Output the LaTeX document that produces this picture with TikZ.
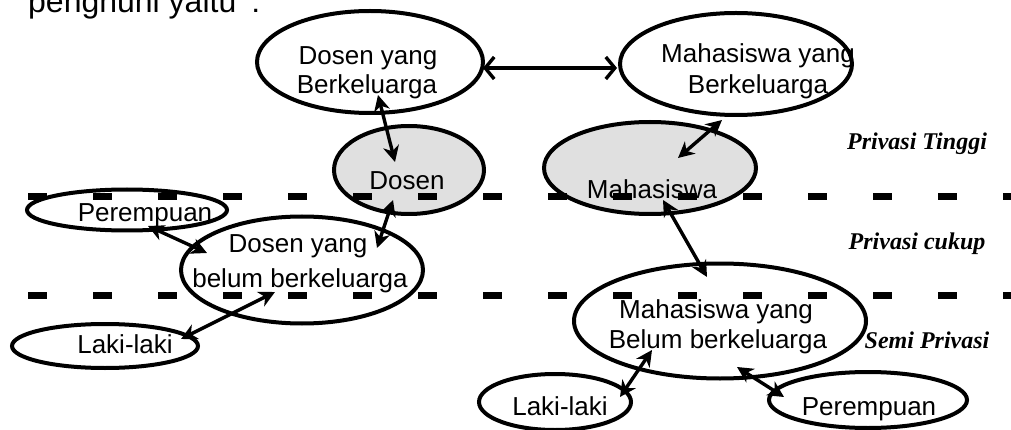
\documentclass[tikz,border=0pt]{standalone}
\usepackage{fontspec}
\setmainfont{Liberation Sans}
\newfontfamily\privfont{Liberation Serif}
\usetikzlibrary{shapes.geometric,arrows.meta,calc}
\begin{document}
\begin{tikzpicture}[x=1pt,y=-1pt,
  ell/.style={draw, line width=4pt, ellipse, inner sep=0pt},
  shaded/.style={fill=black!12},
  lbl/.style={font=\fontsize{26}{29}\selectfont, anchor=base, inner sep=0pt},
  priv/.style={font=\privfont\fontsize{24}{26}\selectfont\bfseries\itshape, anchor=base, inner sep=0pt},
  bi/.style={line width=3.4pt, {Stealth[length=16pt,width=16pt,inset=5pt]}-{Stealth[length=16pt,width=16pt,inset=5pt]}},
  barb/.style={line width=3.4pt, {Straight Barb[length=9pt,width=22pt]}-{Straight Barb[length=9pt,width=22pt]}},
  dashline/.style={line width=7pt, dash pattern=on 19pt off 46pt},
]
\useasboundingbox (0,0) rectangle (1011,430);

% top text (cut off)
\node[font=\fontsize{32}{36}\selectfont, anchor=base west, inner sep=0pt] (top) at (28,13) {penghuni yaitu\hspace{15pt}:};

% ellipses
\node[ell, minimum width=226pt, minimum height=102pt] (dyb) at (370,62) {};
\node[ell, minimum width=232pt, minimum height=102pt] (myb) at (736,64) {};
\node[ell, shaded, minimum width=150pt, minimum height=88pt] (dosen) at (409,170) {};
\node[ell, shaded, minimum width=212pt, minimum height=92pt] (mhs) at (650,168) {};
\node[ell, minimum width=200pt, minimum height=41pt] (perL) at (127,210) {};
\node[ell, minimum width=242pt, minimum height=107pt] (dybb) at (302,270) {};
\node[ell, minimum width=186pt, minimum height=44pt] (lakiL) at (105,346) {};
\node[ell, minimum width=292pt, minimum height=115pt] (mybb) at (720,321) {};
\node[ell, minimum width=152pt, minimum height=56pt] (lakiR) at (555,402) {};
\node[ell, minimum width=198pt, minimum height=56pt] (perR) at (868,400) {};

% texts
\node[lbl] (t1a) at (368,65) {Dosen yang};
\node[lbl] (t1b) at (367,94) {Berkeluarga};
\node[lbl] (t2a) at (758,63) {Mahasiswa yang};
\node[lbl] (t2b) at (758,94) {Berkeluarga};
\node[lbl] (t3) at (407,190) {Dosen};
\node[lbl] (t4) at (652,199) {Mahasiswa};
\node[lbl] (t5) at (145,222) {Perempuan};
\node[lbl] (t6a) at (298,253) {Dosen yang};
\node[lbl] (t6b) at (300,287) {belum berkeluarga};
\node[lbl] (t7) at (125,353) {Laki-laki};
\node[lbl] (t8a) at (716,318) {Mahasiswa yang};
\node[lbl] (t8b) at (718,348) {Belum berkeluarga};
\node[lbl] (t9) at (560,415) {Laki-laki};
\node[lbl] (t10) at (869,415) {Perempuan};

% privacy labels
\node[priv] (p1) at (917,150) {Privasi Tinggi};
\node[priv] (p2) at (917,250) {Privasi cukup};
\node[priv] (p3) at (927,348) {Semi Privasi};

% dashed level lines
\coordinate (l1s) at (28,197);
\coordinate (l1e) at (1011,197);
\coordinate (l2s) at (28,295);
\coordinate (l2e) at (1011,295);
\draw[dashline] (l1s) -- (l1e);
\draw[dashline] (l2s) -- (l2e);

% connectors
\draw[barb] ($(dyb)+(113,6)$) -- ($(myb)+(-119,4)$);
\draw[bi] ($(dyb)+(8,33)$) -- ($(dosen)+(-14,-8)$);
\draw[bi] ($(dosen)+(-16,30)$) -- ($(dybb)+(75,-22)$);
\draw[bi] ($(perL)+(21,16)$) -- ($(dybb)+(-95,-17)$);
\draw[bi] ($(lakiL)+(76,-7)$) -- ($(dybb)+(-27,22)$);
\draw[bi] ($(myb)+(-14,56)$) -- ($(mhs)+(28,-10)$);
\draw[bi] ($(mhs)+(13,32)$) -- ($(mybb)+(-13,-44)$);
\draw[bi] ($(mybb)+(-68,29)$) -- ($(lakiR)+(65,-5)$);
\draw[bi] ($(mybb)+(17,46)$) -- ($(perR)+(-84,-3)$);
\end{tikzpicture}
\end{document}
